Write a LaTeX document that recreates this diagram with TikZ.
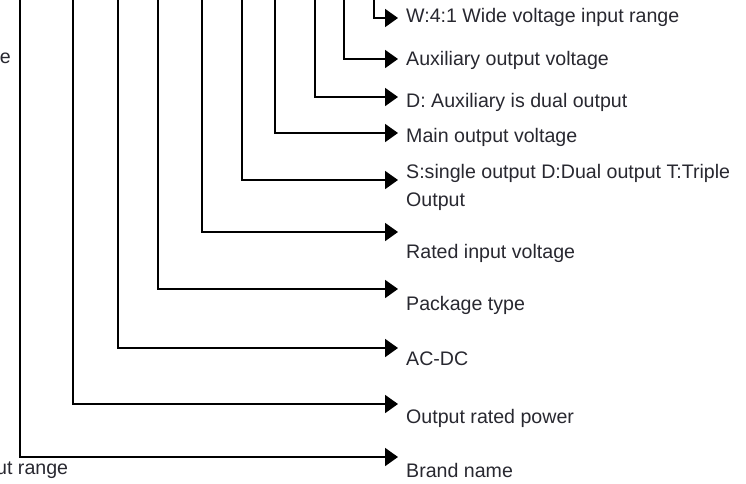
\documentclass[tikz,border=0pt]{standalone}
\usepackage{fontspec}
\setmainfont{Liberation Sans}
\usetikzlibrary{arrows.meta}
\definecolor{txtgray}{RGB}{40,40,48}

\begin{document}
\begin{tikzpicture}[
    x=1pt, y=-1pt,
    font=\fontsize{19.6}{28}\selectfont,
    lbl/.style={anchor=base west, inner sep=0pt, align=left, text=txtgray},
    lead/.style={line width=1.9pt, -{Triangle[length=13pt, width=18pt]}},
  ]
  \useasboundingbox (0,0) rectangle (746,483);
  % one leader per code field, innermost first
  \foreach \i/\xv/\ya/\yb/\txt in {
      1/374/18/22/{W:4:1 Wide voltage input range},
      2/344/59/65/{Auxiliary output voltage},
      3/315/97/107/{D: Auxiliary is dual output},
      4/275/133/142/{Main output voltage},
      5/242/180/206/{S:single output D:Dual output T:Triple\\Output},
      6/202/232/258/{Rated input voltage},
      7/158/289/310/{Package type},
      8/118/348/365/{AC-DC},
      9/73/404/423/{Output rated power},
      10/20/457/477/{Brand name}}{
    \coordinate (top\i) at (\xv,-1);
    \coordinate (tip\i) at (398,\ya);
    \node[lbl] (lbl\i) at (406,\yb) {\txt};
    \draw[lead] (top\i) |- (tip\i);
  }
  % text cut off at the left edge
  \node[lbl, anchor=base east] (cutA) at (11,63) {e};
  \node[lbl] (cutB) at (-4,474) {ut range};
\end{tikzpicture}
\end{document}
